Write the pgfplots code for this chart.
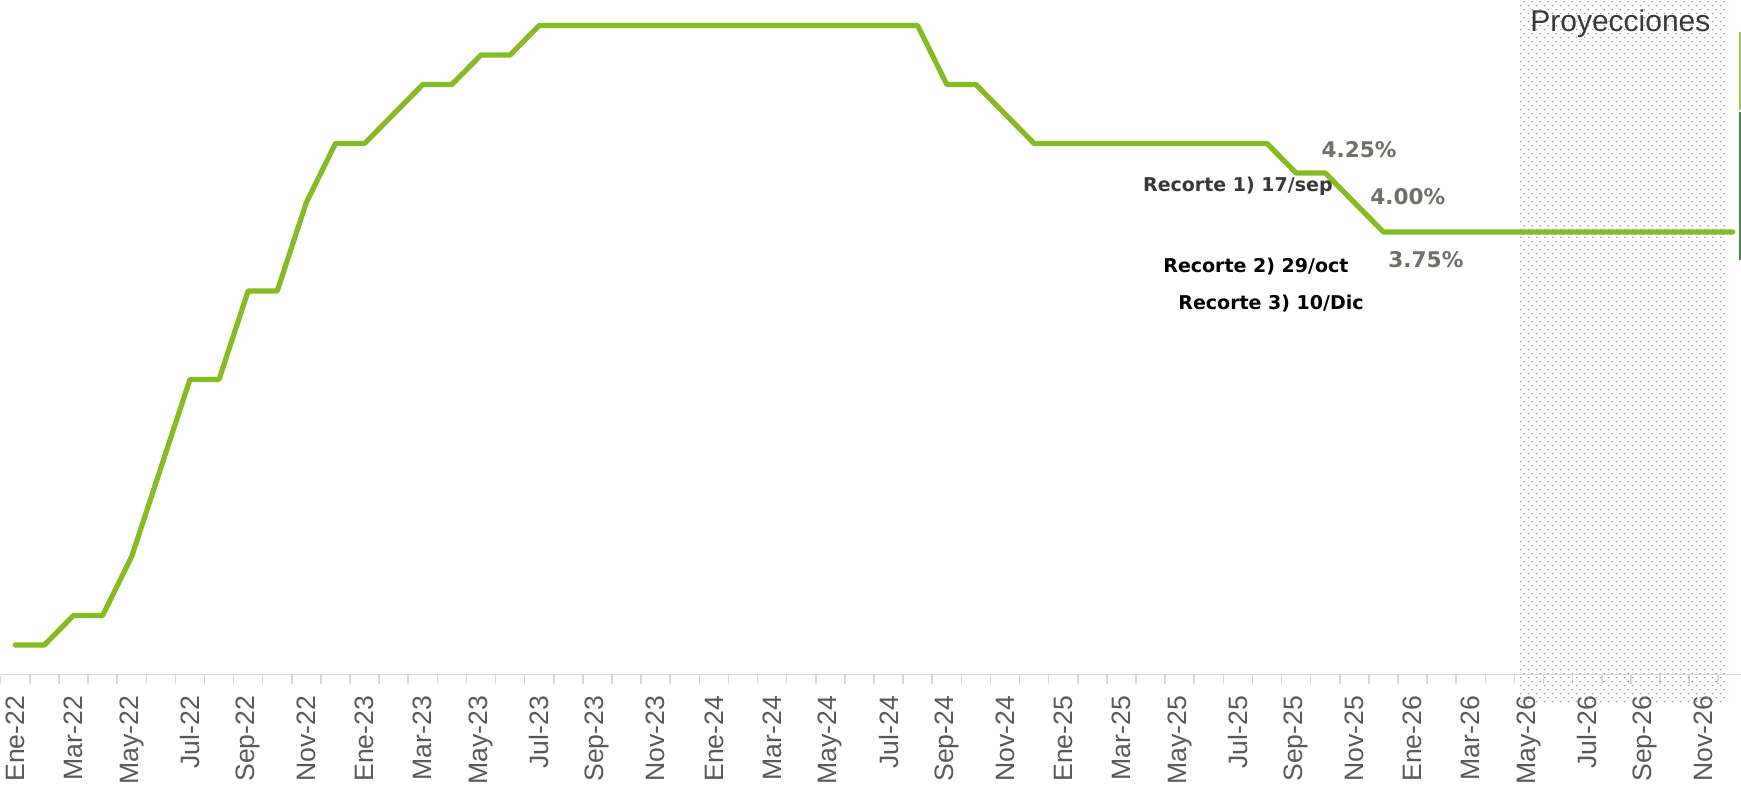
\documentclass[border=0pt]{standalone}
\usepackage{pgfplots}
\pgfplotsset{compat=1.18}
\usepackage{fontspec}
\setmainfont{Liberation Sans}
\newfontfamily\annfont{DejaVu Sans}
\usetikzlibrary{patterns}
\definecolor{lin}{RGB}{132,188,36}
\definecolor{tickgray}{RGB}{89,89,89}
\definecolor{axgray}{RGB}{217,217,217}
\definecolor{pctgray}{RGB}{112,112,106}
\definecolor{dotgray}{RGB}{150,150,150}
\pgfdeclarepatternformonly{stagdots}{\pgfpointorigin}{\pgfpoint{4pt}{4pt}}{\pgfpoint{4pt}{4pt}}{%
  \pgfpathrectangle{\pgfpoint{0pt}{0pt}}{\pgfpoint{0.7pt}{0.7pt}}%
  \pgfpathrectangle{\pgfpoint{2pt}{2pt}}{\pgfpoint{0.7pt}{0.7pt}}%
  \pgfusepath{fill}}
\begin{document}
\begin{tikzpicture}
\begin{axis}[
  name=ax,
  at={(0.35pt,0)}, anchor=south west,
  scale only axis,
  width=873.3pt, height=337.25pt,
  xmin=-0.5, xmax=59.5, ymin=0, ymax=5.716,
  clip=false,
  axis y line=none,
  axis x line=bottom,
  x axis line style={-, draw=axgray, line width=0.75pt},
  xtick={0,2,...,58},
  xticklabels={Ene-22,Mar-22,May-22,Jul-22,Sep-22,Nov-22,Ene-23,Mar-23,May-23,Jul-23,Sep-23,Nov-23,Ene-24,Mar-24,May-24,Jul-24,Sep-24,Nov-24,Ene-25,Mar-25,May-25,Jul-25,Sep-25,Nov-25,Ene-26,Mar-26,May-26,Jul-26,Sep-26,Nov-26},
  minor xtick={-0.5,0.5,...,59.5},
  major tick length=0pt,
  minor tick length=4.5pt,
  tick align=outside,
  minor tick style={draw=axgray, line width=0.75pt},
  major tick style={draw=none},
  xticklabel style={rotate=90, anchor=east, inner sep=0pt, font=\fontsize{13.3}{14}\selectfont, text=tickgray},
  xticklabel shift=10.5pt,
  /pgf/number format/assume math mode=true,
]
\fill[pattern=stagdots, pattern color=dotgray]
  (axis cs:51.62,-0.233) rectangle (axis cs:58.84,5.716);
\addplot[lin, line width=2.6pt, line join=round, line cap=round, mark=none] coordinates {
(0,0.25)(1,0.25)(2,0.50)(3,0.50)(4,1.00)(5,1.75)(6,2.50)(7,2.50)(8,3.25)(9,3.25)
(10,4.00)(11,4.50)(12,4.50)(13,4.75)(14,5.00)(15,5.00)(16,5.25)(17,5.25)(18,5.50)(19,5.50)
(20,5.50)(21,5.50)(22,5.50)(23,5.50)(24,5.50)(25,5.50)(26,5.50)(27,5.50)(28,5.50)(29,5.50)
(30,5.50)(31,5.50)(32,5.00)(33,5.00)(34,4.75)(35,4.50)(36,4.50)(37,4.50)(38,4.50)(39,4.50)
(40,4.50)(41,4.50)(42,4.50)(43,4.50)(44,4.25)(45,4.25)(46,4.00)(47,3.75)(48,3.75)(49,3.75)
(50,3.75)(51,3.75)(52,3.75)(53,3.75)(54,3.75)(55,3.75)(56,3.75)(57,3.75)(58,3.75)(59,3.75)
};
\node[font=\fontsize{15}{16}\selectfont, text=black!78] at (axis cs:55.14,5.515) {Proyecciones};
\node[font=\annfont\bfseries\fontsize{10.8}{12}\selectfont, text=pctgray] at (axis cs:46.16,4.445) {4.25\%};
\node[font=\annfont\bfseries\fontsize{10.8}{12}\selectfont, text=pctgray] at (axis cs:47.84,4.049) {4.00\%};
\node[font=\annfont\bfseries\fontsize{10.8}{12}\selectfont, text=pctgray] at (axis cs:48.46,3.513) {3.75\%};
\node[font=\annfont\bfseries\fontsize{9.5}{11}\selectfont, text=black!78] at (axis cs:42.00,4.14) {Recorte 1) 17/sep};
\node[font=\annfont\bfseries\fontsize{9.5}{11}\selectfont, text=black] at (axis cs:42.62,3.456) {Recorte 2) 29/oct};
\node[font=\annfont\bfseries\fontsize{9.5}{11}\selectfont, text=black] at (axis cs:43.14,3.146) {Recorte 3) 10/Dic};
\draw[line width=0.6pt, draw=lin!80] (axis cs:59.25,5.445) -- (axis cs:59.25,4.784);
\draw[line width=0.6pt, draw=black!40!green!40!gray] (axis cs:59.25,4.77) -- (axis cs:59.25,3.51);
\end{axis}
\pgfresetboundingbox
\path[use as bounding box] (0,-57.25pt) rectangle (870.5pt,337.25pt);
\end{tikzpicture}
\end{document}
